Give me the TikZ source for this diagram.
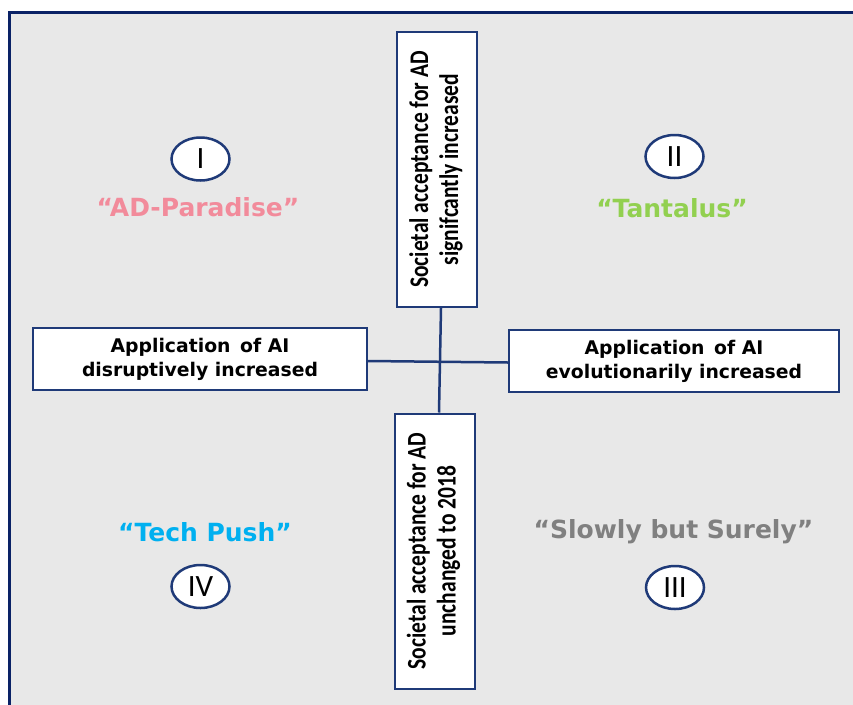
\documentclass[tikz,border=0pt]{standalone}
\usepackage{fontspec}
\usepackage{graphicx}
\setmainfont{DejaVu Sans}
\newfontfamily\calfont{Carlito}
\definecolor{navy}{HTML}{1F3A78}
\definecolor{framec}{HTML}{0A2266}
\definecolor{bgc}{HTML}{E8E8E8}
\definecolor{pinkc}{HTML}{F28B9B}
\definecolor{greenc}{HTML}{92D050}
\definecolor{bluec}{HTML}{00B0F0}
\definecolor{grayc}{HTML}{808080}
\tikzset{
  hbox/.style={draw=navy, line width=2pt, fill=white, minimum width=332pt, minimum height=62pt, inner sep=0pt, align=center, font=\bfseries\fontsize{18.8}{24}\selectfont},
  vbox/.style={draw=navy, line width=2pt, fill=white, minimum width=275pt, minimum height=80pt, inner sep=0pt, rotate=90, align=center},
  numc/.style={ellipse, draw=navy, line width=2.5pt, fill=white, minimum width=58pt, minimum height=43pt, inner sep=0pt, font=\calfont\fontsize{31}{31}\selectfont},
  qlabel/.style={font=\bfseries\fontsize{25}{25}\selectfont, inner sep=0pt},
  conn/.style={draw=navy, line width=2.5pt}
}
\usetikzlibrary{shapes.geometric}
\newcommand{\vtext}[2]{\scalebox{1}[1.25]{\calfont\bfseries\fontsize{21.5}{24}\selectfont\begin{tabular}{@{}c@{}}#1\\#2\end{tabular}}}
\begin{document}
\begin{tikzpicture}[x=1pt,y=1pt]
\clip (0,0) rectangle (853,-704);
\fill[white] (0,0) rectangle (853,-704);
\draw[framec, line width=3pt, fill=bgc] (9.5,-12.5) rectangle (900,-760);
% boxes
\node[vbox] (top) at (437,-169.5) {\vtext{Societal acceptance for AD}{signifcantly increased}};
\node[vbox] (bot) at (434.5,-551) {\vtext{Societal acceptance for AD}{unchanged to 2018}};
\node[hbox, minimum width=334pt] (left) at (200,-359) {Application\, of AI\\disruptively increased};
\node[hbox, minimum width=330pt] (right) at (674,-361) {Application\, of AI\\evolutionarily increased};
% connectors
\draw[conn] ([xshift=4pt]top.west) -- ([xshift=4.5pt]bot.east);
\draw[conn] ([yshift=-2pt]left.east) -- ([yshift=-1.5pt]right.west);
% numbers
\node[numc] (n1) at (200.5,-159) {I};
\node[numc] (n2) at (674.5,-156.5) {II};
\node[numc] (n4) at (200.5,-586.5) {IV};
\node[numc] (n3) at (675,-587.5) {III};
% labels
\node[qlabel, text=pinkc] (l1) at (198,-207) {“AD-Paradise”};
\node[qlabel, text=greenc] (l2) at (672,-208) {“Tantalus”};
\node[qlabel, text=bluec] (l4) at (205,-532) {“Tech Push”};
\node[qlabel, text=grayc] (l3) at (673.5,-532) {“Slowly but Surely”};
\end{tikzpicture}
\end{document}
